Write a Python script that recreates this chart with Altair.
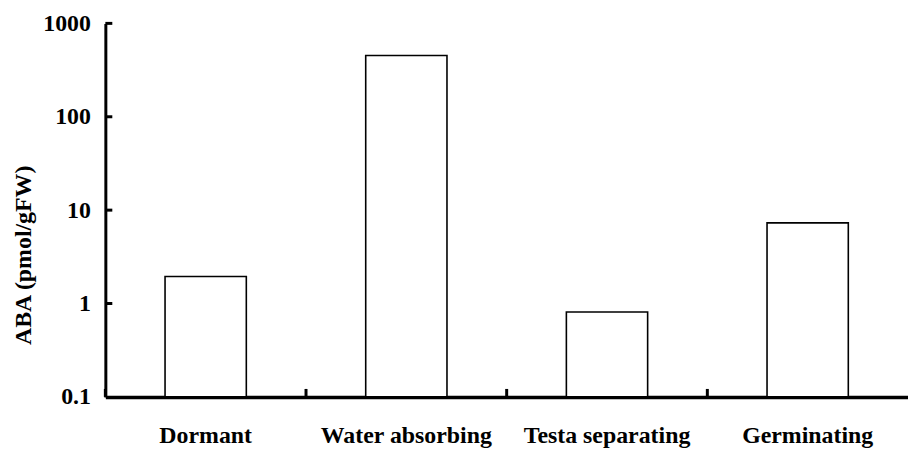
import altair as alt
import pandas as pd

categories = ["Dormant", "Water absorbing", "Testa separating", "Germinating"]
values = [1.95, 453, 0.81, 7.3]
y_tick_values = [0.1, 1, 10, 100, 1000]
inner_ticks = [1, 10, 100, 1000]

df = pd.DataFrame({"stage": categories, "aba": values})
df_ticks = pd.DataFrame({"t": inner_ticks})

FONT = "Liberation Serif"
W, H = 808, 376

yscale = alt.Scale(type="log", domain=[0.1, 1000], nice=False)
xscale = alt.Scale(paddingInner=0, paddingOuter=0)

bars = alt.Chart(df).mark_bar(
    fill="white", stroke="black", strokeWidth=1.6,
    width=alt.RelativeBandSize(0.405)
).encode(
    x=alt.X("stage:N", sort=categories, scale=xscale, title=None,
            axis=alt.Axis(labelAngle=0, labelPadding=27, ticks=False,
                          domainWidth=3.5, domainColor="black")),
    y=alt.Y("aba:Q", scale=yscale, title="ABA (pmol/gFW)",
            axis=alt.Axis(values=y_tick_values, format="~g", ticks=False,
                          labelPadding=15, titlePadding=7, titleY=233,
                          domainWidth=3, domainColor="black", grid=False)),
    y2=alt.datum(0.1),
)

xticks = alt.Chart(df).mark_rule(color="black", strokeWidth=3).encode(
    x=alt.X("stage:N", sort=categories, scale=xscale, bandPosition=0),
    y=alt.value(H - 8),
    y2=alt.value(H),
)

yticks = alt.Chart(df_ticks).mark_rule(color="black", strokeWidth=3).encode(
    y=alt.Y("t:Q", scale=yscale),
    x=alt.value(0),
    x2=alt.value(7),
)

chart = alt.layer(bars, xticks, yticks).properties(
    width=W, height=H,
    padding={"left": 4, "top": 2, "right": 0, "bottom": 5},
).configure_view(stroke=None).configure_axis(
    labelFont=FONT, labelFontSize=24, labelFontWeight="bold", labelColor="black",
    titleFont=FONT, titleFontSize=24, titleFontWeight="bold", titleColor="black",
    grid=False,
)

chart.save("out.html", embed_options={"renderer": "svg", "actions": False})
